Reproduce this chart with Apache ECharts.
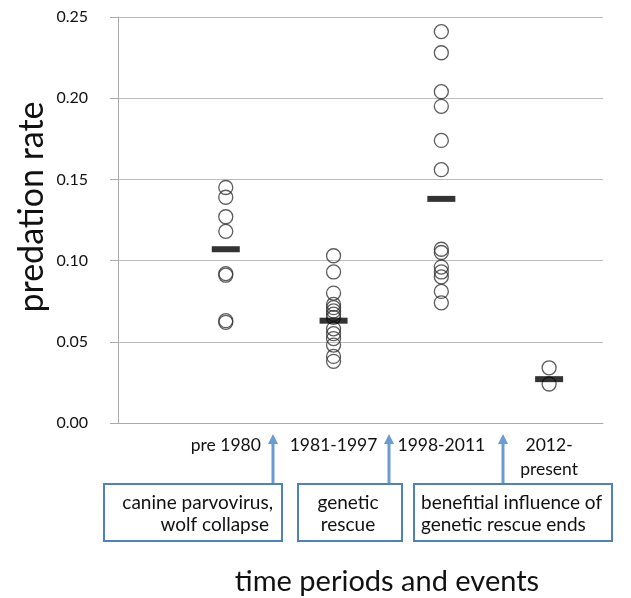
<!DOCTYPE html>
<html>
<head>
<meta charset="utf-8">
<script src="https://cdn.jsdelivr.net/npm/echarts@6/dist/echarts.min.js"></script>
<style>
  html, body { margin: 0; padding: 0; background: #fff; }
  #c1 { width: 631px; height: 598px; }
</style>
</head>
<body>
<div id="c1"></div>
<script>
// periods on the x axis (positions 1..4)
var periods = ["pre 1980", "1981-1997", "1998-2011", "2012-\npresent"];

// individual predation rates
var pre1980 = [0.145, 0.139, 0.127, 0.118, 0.092, 0.091, 0.063, 0.062];
var p1981 = [0.103, 0.093, 0.080, 0.073, 0.071, 0.069, 0.067, 0.065,
  0.058, 0.055, 0.052, 0.048, 0.041, 0.038];
var p1998 = [0.241, 0.228, 0.204, 0.195, 0.174, 0.156, 0.107, 0.105,
  0.096, 0.093, 0.090, 0.081, 0.074];
var p2012 = [0.034, 0.024];

// period means (black dashes)
var means = [0.107, 0.063, 0.138, 0.027];

var yTicks = [0, 0.05, 0.1, 0.15, 0.2, 0.25];

var groups = [pre1980, p1981, p1998, p2012];
var points = [];
for (var i = 0; i < groups.length; i++) {
  for (var j = 0; j < groups[i].length; j++) {
    points.push([i + 1, groups[i][j]]);
  }
}
var meanPts = [];
for (var k = 0; k < means.length; k++) {
  meanPts.push([k + 1, means[k]]);
}

var font = "Lato, 'Open Sans', sans-serif";
var blue = "#4f81bd";
var arrowBlue = "#6c9bd2";
var ink = "#111";

function arrow(x) {
  return {
    type: "group",
    children: [
      { type: "line", shape: { x1: x, y1: 442, x2: x, y2: 484 },
        style: { stroke: arrowBlue, lineWidth: 3 } },
      { type: "polygon", shape: { points: [[x, 434], [x - 5, 444], [x + 5, 444]] },
        style: { fill: arrowBlue } },
    ],
  };
}

function box(x, y, w, h) {
  return {
    type: "rect",
    shape: { x: x, y: y, width: w, height: h },
    style: { fill: "#fff", stroke: blue, lineWidth: 2 },
  };
}

function label(txt, x, y, align, size) {
  return {
    type: "text",
    x: x,
    y: y,
    style: {
      text: txt,
      font: size + "px " + font,
      fill: ink,
      align: align,
      verticalAlign: "middle",
    },
  };
}

var chartDom = document.getElementById("c1");
var myChart = echarts.init(chartDom);
var option;

option = {
  backgroundColor: "#fff",
  animation: false,
  grid: { left: 118, right: 28, top: 17, bottom: 175 },
  xAxis: {
    type: "value",
    min: 0,
    max: 4.5,
    interval: 1,
    splitLine: { show: false },
    axisTick: { show: false },
    axisLine: { show: true, lineStyle: { color: "#aaa", width: 1 } },
    axisLabel: {
      margin: 10,
      fontFamily: font,
      fontSize: 17.5,
      color: ink,
      lineHeight: 24,
      showMaxLabel: false,
      formatter: function (v) {
        return periods[v - 1] || "";
      },
    },
  },
  yAxis: {
    type: "value",
    min: 0,
    max: 0.25,
    interval: 0.05,
    axisLine: { show: true, lineStyle: { color: "#aaa", width: 1 } },
    axisTick: { show: true, length: 8, lineStyle: { color: "#aaa" } },
    splitLine: { show: true, lineStyle: { color: "#bbb", width: 1 } },
    axisLabel: {
      margin: 30,
      fontFamily: font,
      fontSize: 16,
      color: ink,
      formatter: function (v) {
        return yTicks.indexOf(+v.toFixed(2)) >= 0 ? v.toFixed(2) : "";
      },
    },
  },
  series: [
    {
      name: "rates",
      type: "scatter",
      data: points,
      symbol: "circle",
      symbolSize: 14,
      itemStyle: { color: "rgba(0,0,0,0)", borderColor: "#333", borderWidth: 1.3 },
      z: 3,
    },
    {
      name: "mean",
      type: "scatter",
      data: meanPts,
      symbol: "rect",
      symbolSize: [28, 6],
      itemStyle: { color: "#000" },
      z: 4,
    },
  ],
  graphic: [
    {
      type: "text",
      x: 32,
      y: 207,
      rotation: Math.PI / 2,
      style: {
        text: "predation rate",
        font: "34px " + font,
        fill: ink,
        align: "center",
        verticalAlign: "middle",
      },
    },
    arrow(273),
    arrow(389),
    arrow(503),
    box(104, 484, 178, 57),
    box(298, 484, 104, 57),
    box(414, 484, 198, 57),
    label("canine parvovirus,", 273, 503, "right", 19),
    label("wolf collapse", 269, 525, "right", 19),
    label("genetic", 348, 503, "center", 19),
    label("rescue", 348, 525, "center", 19),
    label("benefitial influence of", 421, 503, "left", 19),
    label("genetic rescue ends", 421, 525, "left", 19),
    label("time periods and events", 387, 582, "center", 29),
  ],
};
myChart.setOption(option);
window.addEventListener("resize", function () {
  myChart.resize();
});
</script>
</body>
</html>
